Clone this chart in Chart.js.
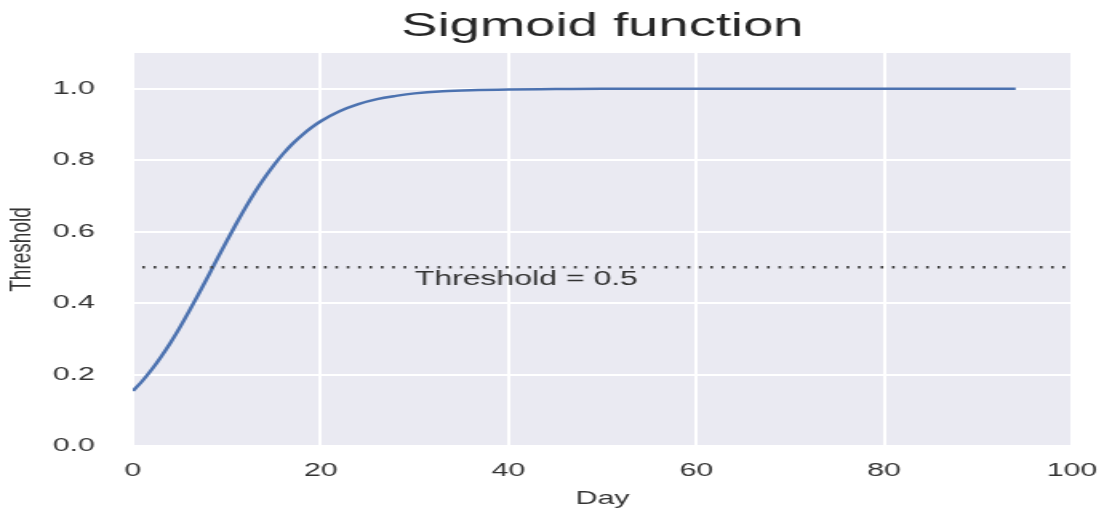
<!DOCTYPE html>
<html>
<head>
<meta charset="utf-8">
<script src="https://cdn.jsdelivr.net/npm/chart.js@4.4.1/dist/chart.umd.min.js"></script>
<style>
  html, body { margin: 0; padding: 0; background: #fff; overflow: hidden; }
  /* the reference figure was stretched sideways, so the chart is drawn narrow and scaled */
  #wrap { width: 689px; height: 512px; transform: scaleX(1.6); transform-origin: 0 0; }
</style>
</head>
<body>
<div id="wrap"><canvas id="chart"></canvas></div>
<script>
// values
const days = [0, 1, 2, 3, 4, 5, 6, 7, 8, 9, 10, 11, 12, 13, 14, 15, 16, 17, 18, 19, 20,
  22, 24, 26, 28, 30, 33, 36, 40, 45, 50, 60, 70, 80, 90, 94];
const threshold = [0.154, 0.182, 0.214, 0.250, 0.289, 0.332, 0.378, 0.426, 0.475, 0.525, 0.574,
  0.622, 0.668, 0.711, 0.750, 0.786, 0.818, 0.846, 0.870, 0.891, 0.909,
  0.937, 0.957, 0.971, 0.980, 0.987, 0.993, 0.996, 0.998, 0.999, 1.0, 1.0, 1.0, 1.0, 1.0, 1.0];

const cutoffDays = [1, 100];
const cutoff = 0.5;
const cutoffLabel = 'Threshold = 0.5';
const cutoffLabelAt = [30, 0.45];

const xTicks = [0, 20, 40, 60, 80, 100];
const yTicks = [0.0, 0.2, 0.4, 0.6, 0.8, 1.0];

const font = "'Liberation Sans', Arial, sans-serif";
const textColor = '#333';

const plotBackground = {
  id: 'plotBackground',
  beforeDraw(chart) {
    const { ctx, chartArea: a } = chart;
    ctx.save();
    ctx.fillStyle = '#eaeaf2';
    ctx.fillRect(a.left, a.top, a.right - a.left, a.bottom - a.top);
    ctx.restore();
  }
};

const cutoffText = {
  id: 'cutoffText',
  afterDatasetsDraw(chart) {
    const { ctx, scales } = chart;
    ctx.save();
    ctx.font = '20px ' + font;
    ctx.fillStyle = textColor;
    ctx.textAlign = 'left';
    ctx.textBaseline = 'alphabetic';
    ctx.fillText(cutoffLabel, scales.x.getPixelForValue(cutoffLabelAt[0]), scales.y.getPixelForValue(cutoffLabelAt[1]));
    ctx.restore();
  }
};

new Chart(document.getElementById('chart'), {
  type: 'line',
  data: {
    datasets: [
      {
        data: cutoffDays.map(d => ({ x: d, y: cutoff })),
        borderColor: '#3a3a3a',
        borderWidth: 2.5,
        borderDash: [1.6, 5.5],
        pointRadius: 0,
      },
      {
        data: days.map((d, i) => ({ x: d, y: threshold[i] })),
        borderColor: '#4c72b0',
        borderWidth: 2.5,
        cubicInterpolationMode: 'monotone',
        pointRadius: 0,
      },
    ],
  },
  options: {
    responsive: true,
    maintainAspectRatio: false,
    animation: false,
    layout: { padding: { left: 0, right: 19, top: 0, bottom: 0 } },
    plugins: {
      legend: { display: false },
      tooltip: { enabled: false },
      title: {
        display: true,
        fullSize: false,
        text: 'Sigmoid function',
        color: '#262626',
        font: { family: font, size: 34, weight: 'normal' },
        padding: { top: 6, bottom: 6.2 },
      },
    },
    scales: {
      x: {
        type: 'linear',
        min: 0,
        max: 100,
        afterBuildTicks: (s) => { s.ticks = xTicks.map(v => ({ value: v })); },
        afterFit: (s) => { s.height = 66; s.paddingLeft = 0; s.paddingRight = 0; },
        border: { display: false },
        grid: { color: '#ffffff', lineWidth: 2, drawTicks: false },
        ticks: { color: textColor, font: { family: font, size: 19 }, padding: 13.6, maxRotation: 0 },
        title: { display: true, text: 'Day', color: textColor, font: { family: font, size: 19 }, padding: { top: 0, bottom: 2.2 } },
      },
      y: {
        min: 0,
        max: 1.1,
        afterBuildTicks: (s) => { s.ticks = yTicks.map(v => ({ value: v })); },
        afterFit: (s) => { s.width = 83.1; s.paddingTop = 0; s.paddingBottom = 0; },
        border: { display: false },
        grid: { color: '#ffffff', lineWidth: 2, drawTicks: false },
        ticks: { color: textColor, font: { family: font, size: 19 }, padding: 23.7, callback: (v) => Number(v).toFixed(1) },
        title: { display: true, text: 'Threshold', color: textColor, font: { family: font, size: 19 }, padding: { top: 2.4, bottom: 0 } },
      },
    },
  },
  plugins: [plotBackground, cutoffText],
});
</script>
</body>
</html>
